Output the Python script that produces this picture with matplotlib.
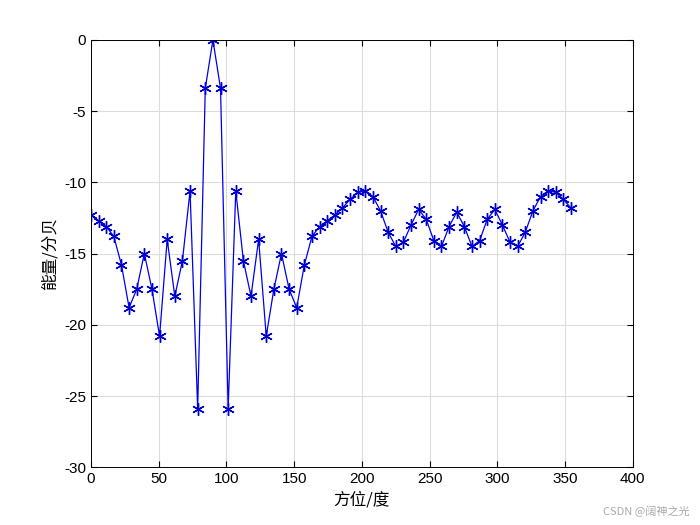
import numpy as np
import matplotlib
matplotlib.use("Agg")
import matplotlib.pyplot as plt

angles = np.arange(64) * 5.625
energy_db = [-12.3, -12.7, -13.1, -13.8, -15.8, -18.8, -17.5, -15.0, -17.5, -20.8,
             -14.0, -18.0, -15.5, -10.6, -25.9, -3.4, 0.0, -3.4, -25.9, -10.6,
             -15.5, -18.0, -14.0, -20.8, -17.5, -15.0, -17.5, -18.8, -15.8, -13.8,
             -13.1, -12.7, -12.3, -11.8, -11.2, -10.7, -10.6, -11.0, -12.0, -13.5,
             -14.5, -14.2, -13.0, -11.9, -12.6, -14.1, -14.5, -13.1, -12.1, -13.1,
             -14.5, -14.1, -12.6, -11.9, -13.0, -14.2, -14.5, -13.5, -12.0, -11.0,
             -10.6, -10.7, -11.2, -11.8]

plt.rcParams['font.family'] = ['Liberation Sans', 'Noto Sans CJK SC', 'DejaVu Sans']
plt.rcParams['axes.unicode_minus'] = False
fig = plt.figure(figsize=(7, 5.25), dpi=100)
ax = fig.add_axes([0.13, 0.11, 0.774, 0.814])
ax.plot(angles, energy_db, color='#0000ee', lw=0.9, marker=(6, 2, 0), ms=9,
        mew=1.0, mec='#0000cc')
ax.set_xlim(0, 400)
ax.set_ylim(-30, 0)
ax.set_xticks(range(0, 401, 50))
ax.set_yticks(range(-30, 1, 5))
ax.grid(True, color='#dcdcdc', lw=0.8)
ax.tick_params(direction='in', labelsize=11, top=True, right=True, length=4)
for s in ax.spines.values():
    s.set_linewidth(0.7)
ax.set_xlabel('方位/度', fontsize=12, family=['Noto Sans CJK SC'])
ax.set_ylabel('能量/分贝', fontsize=12, family=['Noto Sans CJK SC'])
fig.text(0.985, 0.015, 'CSDN @阔神之光', ha='right', va='bottom', fontsize=8,
         color='#aaaaaa', family=['Noto Sans CJK SC', 'DejaVu Sans'])
fig.savefig('out.png', dpi=100)
